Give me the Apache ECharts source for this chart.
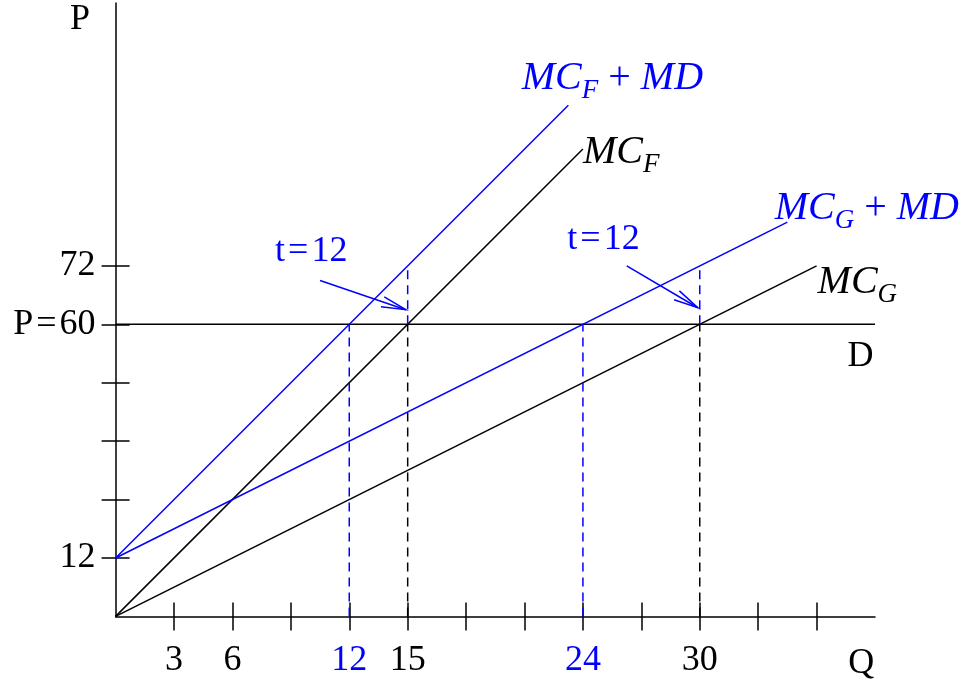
<!DOCTYPE html>
<html>
<head>
<meta charset="utf-8">
<script src="https://cdn.jsdelivr.net/npm/echarts@6/dist/echarts.min.js"></script>
<style>html,body{margin:0;padding:0;background:#fff}#chart{width:959px;height:687px}</style>
</head>
<body>
<div id="chart"></div>
<script>
var chart = echarts.init(document.getElementById('chart'));

// curvas (Q, P)
var mcF = [[0, 0], [24, 96]];
var mcFmd = [[0, 12], [23.25, 105]];
var mcG = [[0, 0], [36, 72]];
var mcGmd = [[0, 12], [34.5, 81]];
var demanda = [[0, 60], [39, 60]];

// verticales discontinuas
var dashNegro = [[[15, 0], [15, 60]], [[30, 0], [30, 60]]];
var dashAzul = [[[12, 0], [12, 60]], [[24, 0], [24, 60]], [[15, 60], [15, 72]], [[30, 60], [30, 72]]];

// flechas t=12 (desde -> hasta)
var flechas = [[10.5, 69, 14.9, 63], [26.25, 72, 29.9, 63.4]];

// ejes
var ticksX = [3, 6, 9, 12, 15, 18, 21, 24, 27, 30, 33, 36];
var etiquetasX = [3, 6, 12, 15, 24, 30];
var azulesX = [12, 24];
var ticksY = [12, 24, 36, 48, 60, 72];
var etiquetasY = [12, 60, 72];

var AZUL = '#0000ff';
var SERIF = 'Liberation Serif';
var FS = 36;

var richTxt = function (color) {
    return {
        mc: { fontFamily: SERIF, fontStyle: 'italic', fontSize: 40, color: color, lineHeight: 44, verticalAlign: 'bottom', padding: [0, 0, 6, 0] },
        sub: { fontFamily: SERIF, fontStyle: 'italic', fontSize: 27, color: color, lineHeight: 28, verticalAlign: 'bottom' },
        op: { fontFamily: SERIF, fontSize: 40, color: color, lineHeight: 44, verticalAlign: 'bottom', padding: [0, 0, 6, 0] }
    };
};

function ejeX(inside) {
    return {
        type: 'value', min: 0, max: 39, gridIndex: 0, position: 'bottom',
        axisLine: { show: !inside, onZero: false, lineStyle: { color: '#000', width: 1.5 } },
        axisTick: { show: true, inside: inside, length: 14, customValues: ticksX, lineStyle: { color: '#000', width: 1.5 } },
        axisLabel: {
            show: !inside, customValues: etiquetasX, margin: 26,
            fontFamily: SERIF, fontSize: FS, color: '#000',
            formatter: function (v) { return azulesX.indexOf(v) >= 0 ? '{b|' + v + '}' : String(v); },
            rich: { b: { color: AZUL, fontFamily: SERIF, fontSize: FS } }
        },
        splitLine: { show: false }
    };
}
function ejeY(inside) {
    return {
        type: 'value', min: 0, max: 126, gridIndex: 0, position: 'left',
        axisLine: { show: !inside, onZero: false, lineStyle: { color: '#000', width: 1.5 } },
        axisTick: { show: true, inside: inside, length: 14, customValues: ticksY, lineStyle: { color: '#000', width: 1.5 } },
        axisLabel: {
            show: !inside, customValues: etiquetasY, margin: 20,
            fontFamily: SERIF, fontSize: FS, color: '#000',
            formatter: function (v) { return v === 60 ? 'P\u200a=\u200a60' : String(v); }
        },
        splitLine: { show: false }
    };
}

function linea(data, color, dashed) {
    return {
        type: 'line', data: data, symbol: 'none', silent: true, animation: false,
        lineStyle: { color: color, width: 1.5, type: dashed ? [9, 6] : 'solid' }
    };
}

function texto(q, p, fmt, color, pos) {
    return {
        type: 'scatter', symbolSize: 0, clip: false, silent: true, animation: false,
        itemStyle: { opacity: 1 },
        data: [[q, p]],
        label: {
            show: true, position: pos || 'right', distance: 0, formatter: fmt, opacity: 1,
            fontFamily: SERIF, fontSize: FS, color: color, rich: richTxt(color)
        }
    };
}

var series = [
    linea(demanda, '#000'),
    linea(mcF, '#000'),
    linea(mcG, '#000'),
    linea(mcFmd, AZUL),
    linea(mcGmd, AZUL)
];
dashNegro.forEach(function (d) { series.push(linea(d, '#000', true)); });
dashAzul.forEach(function (d) { series.push(linea(d, AZUL, true)); });

series.push({
    type: 'custom', silent: true, animation: false, clip: false,
    data: flechas,
    renderItem: function (params, api) {
        var a = api.coord([api.value(0), api.value(1)]);
        var b = api.coord([api.value(2), api.value(3)]);
        var ang = Math.atan2(a[1] - b[1], a[0] - b[0]);
        var L = 25, w = 12 * Math.PI / 180;
        var h1 = [b[0] + L * Math.cos(ang + w), b[1] + L * Math.sin(ang + w)];
        var h2 = [b[0] + L * Math.cos(ang - w), b[1] + L * Math.sin(ang - w)];
        var st = { stroke: AZUL, lineWidth: 1.5, fill: null };
        return {
            type: 'group', children: [
                { type: 'line', shape: { x1: a[0], y1: a[1], x2: b[0], y2: b[1] }, style: st },
                { type: 'polyline', shape: { points: [h1, b, h2] }, style: st }
            ]
        };
    }
});

series.push(texto(-1.83, 122.5, 'P', '#000', 'inside'));
series.push(texto(38.3, -9.6, 'Q', '#000', 'inside'));
series.push(texto(38.25, 53.3, 'D', '#000', 'inside'));
series.push(texto(24.0, 94.4, '{mc|MC}{sub|F}', '#000'));
series.push(texto(36.05, 67.7, '{mc|MC}{sub|G}', '#000'));
series.push(texto(20.86, 109.6, '{mc|MC}{sub|F}{op| + }{mc|MD}', AZUL));
series.push(texto(33.85, 83.0, '{mc|MC}{sub|G}{op| + }{mc|MD}', AZUL));
series.push(texto(8.19, 74.9, 't\u200a=\u200a12', AZUL));
series.push(texto(23.2, 77.4, 't\u200a=\u200a12', AZUL));

var option = {
    backgroundColor: '#fff',
    animation: false,
    grid: { left: 115.6, right: 84, top: 3, bottom: 70.6, containLabel: false },
    xAxis: [ejeX(false), ejeX(true)],
    yAxis: [ejeY(false), ejeY(true)],
    series: series
};

chart.setOption(option);
</script>
</body>
</html>
